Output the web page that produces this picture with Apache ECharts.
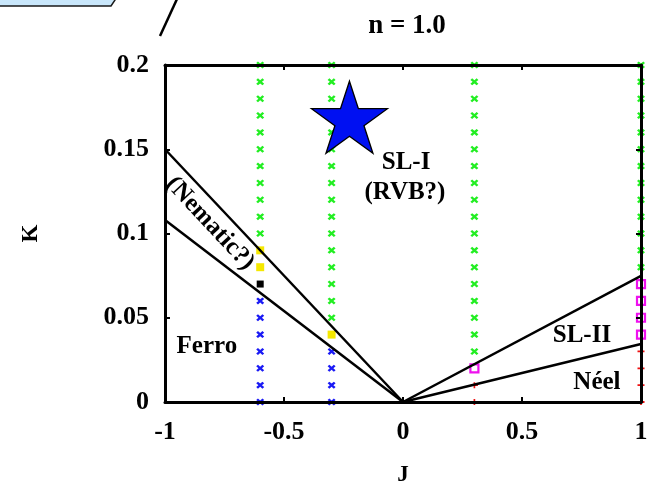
<!DOCTYPE html>
<html>
<head>
<meta charset="utf-8">
<title>n = 1.0 phase diagram</title>
<script src="https://cdn.jsdelivr.net/npm/echarts@6/dist/echarts.min.js"></script>
<style>
  html, body { margin: 0; padding: 0; background: #ffffff; }
  #chart { width: 657px; height: 482px; }
</style>
</head>
<body>
<div id="chart"></div>
<script>
// Axis ticks
const xTicks = [-1, -0.5, 0, 0.5, 1];
const yTicks = [0, 0.05, 0.1, 0.15, 0.2];

// Sampled (J, K) points grouped by the phase found there
const slIPoints = [
  [-0.6, 0.10], [-0.6, 0.11], [-0.6, 0.12], [-0.6, 0.13], [-0.6, 0.14], [-0.6, 0.15],
  [-0.6, 0.16], [-0.6, 0.17], [-0.6, 0.18], [-0.6, 0.19], [-0.6, 0.20],
  [-0.3, 0.05], [-0.3, 0.06], [-0.3, 0.07], [-0.3, 0.08], [-0.3, 0.09], [-0.3, 0.10],
  [-0.3, 0.11], [-0.3, 0.12], [-0.3, 0.13], [-0.3, 0.14], [-0.3, 0.15], [-0.3, 0.16],
  [-0.3, 0.17], [-0.3, 0.18], [-0.3, 0.19], [-0.3, 0.20],
  [0.3, 0.03], [0.3, 0.04], [0.3, 0.05], [0.3, 0.06], [0.3, 0.07], [0.3, 0.08],
  [0.3, 0.09], [0.3, 0.10], [0.3, 0.11], [0.3, 0.12], [0.3, 0.13], [0.3, 0.14],
  [0.3, 0.15], [0.3, 0.16], [0.3, 0.17], [0.3, 0.18], [0.3, 0.19], [0.3, 0.20],
  [1.0, 0.08], [1.0, 0.09], [1.0, 0.10], [1.0, 0.11], [1.0, 0.12], [1.0, 0.13],
  [1.0, 0.14], [1.0, 0.15], [1.0, 0.16], [1.0, 0.17], [1.0, 0.18], [1.0, 0.19], [1.0, 0.20]
];
const ferroPoints = [
  [-0.6, 0.00], [-0.6, 0.01], [-0.6, 0.02], [-0.6, 0.03], [-0.6, 0.04], [-0.6, 0.05], [-0.6, 0.06],
  [-0.3, 0.00], [-0.3, 0.01], [-0.3, 0.02], [-0.3, 0.03]
];
const nematicPoints = [[-0.6, 0.08], [-0.6, 0.09], [-0.3, 0.04]];
const unclearPoints = [[-0.6, 0.07]];
const slIIPoints = [[0.3, 0.02], [1.0, 0.04], [1.0, 0.05], [1.0, 0.06], [1.0, 0.07]];
const neelPoints = [
  [0.3, 0.00], [0.3, 0.01],
  [1.0, 0.00], [1.0, 0.01], [1.0, 0.02], [1.0, 0.03]
];

// Phase boundaries
const ferroNematicBoundary = [[-1, 0.15], [0, 0]];
const ferroLowerBoundary = [[-1, 0.108], [0, 0]];
const slBoundary = [[0, 0], [1, 0.0748]];
const neelBoundary = [[0, 0], [1, 0.0344]];

// Highlighted parameter point
const starPoint = [[-0.225, 0.169]];

// Region names and where they sit in (J, K)
const regionNames = ['SL-I', '(RVB?)', 'Ferro', 'SL-II', 'Néel', '(Nematic?)'];
const regionAnchors = [[0.013, 0.1424], [0.008, 0.1246], [-0.824, 0.0332], [0.752, 0.0392], [0.815, 0.0113], [-0.811, 0.106]];

const SERIF = '"Liberation Serif", "DejaVu Serif", serif';
const CROSS = 'path://M0,2.2L2.2,0L5,2.8L7.8,0L10,2.2L7.2,5L10,7.8L7.8,10L5,7.2L2.2,10L0,7.8L2.8,5Z';
const PLUS = 'path://M0,3.5L10,3.5L10,6.5L0,6.5Z M3.8,0L6.2,0L6.2,10L3.8,10Z';
const STAR = 'path://M50,0L61.2,34.5L97.6,34.5L68.2,55.9L79.4,90.5L50,69.1L20.6,90.5L31.8,55.9L2.4,34.5L38.8,34.5Z';

const chart = echarts.init(document.getElementById('chart'), null, { renderer: 'canvas' });

function axisBase(extra) {
  return Object.assign({
    type: 'value',
    z: 5,
    splitLine: { show: false },
    axisLine: { show: true, onZero: false, lineStyle: { color: '#000', width: 3 } },
    axisTick: { show: true, inside: true, length: 5, lineStyle: { color: '#000', width: 2 } }
  }, extra);
}

const labelFont = { fontFamily: SERIF, fontWeight: 'bold', fontSize: 26, color: '#000' };
const nameFont = { fontFamily: SERIF, fontWeight: 'bold', fontSize: 23, color: '#000' };

function lineSeries(data) {
  return {
    type: 'line', data: data, symbol: 'none', z: 4, silent: true,
    lineStyle: { color: '#000', width: 2.5, opacity: 1 }
  };
}

function markerSeries(data, symbol, size, style, z) {
  return {
    type: 'scatter', data: data, symbol: symbol, symbolSize: size,
    clip: false, z: z || 2, silent: true,
    itemStyle: Object.assign({ opacity: 1 }, style)
  };
}

chart.setOption({
  animation: false,
  backgroundColor: '#ffffff',
  title: {
    text: 'n = 1.0',
    left: 402, top: 8, textAlign: 'center',
    textStyle: { fontFamily: SERIF, fontWeight: 'bold', fontSize: 27, color: '#000' }
  },
  grid: { left: 165, right: 16, top: 65, bottom: 80, containLabel: false, outerBoundsMode: 'none' },
  xAxis: [
    axisBase({
      min: xTicks[0], max: xTicks[xTicks.length - 1], interval: 0.5, position: 'bottom',
      name: 'J', nameLocation: 'middle', nameGap: 62, nameTextStyle: nameFont,
      axisLabel: Object.assign({ margin: 17, formatter: v => String(v) }, labelFont)
    }),
    axisBase({
      min: xTicks[0], max: xTicks[xTicks.length - 1], interval: 0.5, position: 'top',
      axisLabel: { show: false }
    })
  ],
  yAxis: [
    axisBase({
      min: yTicks[0], max: yTicks[yTicks.length - 1], interval: 0.05, position: 'left',
      name: 'K', nameLocation: 'middle', nameGap: 122, nameTextStyle: nameFont,
      axisLabel: Object.assign({ margin: 16, formatter: v => String(v) }, labelFont)
    }),
    axisBase({
      min: yTicks[0], max: yTicks[yTicks.length - 1], interval: 0.05, position: 'right',
      axisLabel: { show: false }
    })
  ],
  series: [
    markerSeries(slIPoints, CROSS, [8, 7], { color: '#22ee22' }),
    markerSeries(ferroPoints, CROSS, [8, 7], { color: '#1a1af5' }),
    markerSeries(nematicPoints, 'rect', 8, { color: '#f5e800' }),
    markerSeries(unclearPoints, 'rect', 7, { color: '#000000' }),
    markerSeries(slIIPoints, 'rect', 8, { color: '#ffffff', borderColor: '#ee11ee', borderWidth: 2.2 }),
    markerSeries(neelPoints, PLUS, [7, 6], { color: '#ee1111' }),
    lineSeries(ferroNematicBoundary),
    lineSeries(ferroLowerBoundary),
    lineSeries(slBoundary),
    lineSeries(neelBoundary),
    markerSeries(starPoint, STAR, [76, 72], { color: '#0010f2', borderColor: '#000', borderWidth: 1.3 }, 6),
    {
      type: 'scatter', z: 7, silent: true, symbolSize: 0, clip: false,
      itemStyle: { opacity: 1 },
      data: regionNames.map((name, i) => ({
        name: name,
        value: regionAnchors[i],
        label: name === '(Nematic?)' ? { rotate: -47 } : {}
      })),
      label: {
        show: true, position: 'inside', formatter: p => p.name,
        fontFamily: SERIF, fontSize: 25, fontWeight: 'bold', color: '#000', opacity: 1
      }
    }
  ],
  graphic: [
    {
      type: 'polygon', z: 10, silent: true,
      shape: { points: [[-3, -3], [117, -3], [111, 6], [-3, 6]] },
      style: { fill: '#c9e7fb', stroke: '#1a1a1a', lineWidth: 1.5 }
    },
    {
      type: 'line', z: 10, silent: true,
      shape: { x1: 177, y1: -1, x2: 160, y2: 36 },
      style: { stroke: '#000', lineWidth: 2.5 }
    }
  ]
});
</script>
</body>
</html>
